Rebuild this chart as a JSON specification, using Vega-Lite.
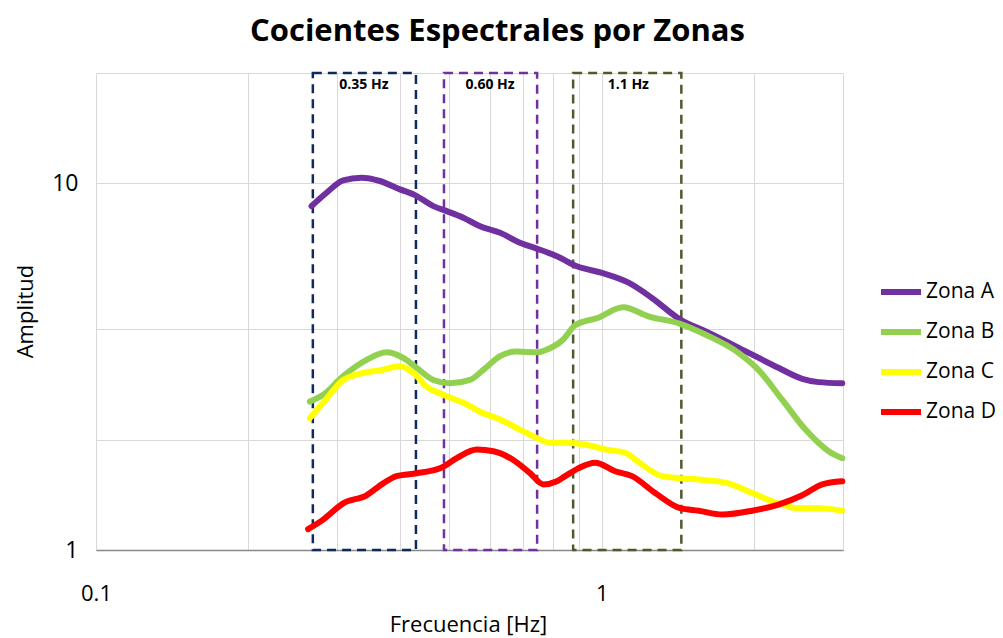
{
  "$schema": "https://vega.github.io/schema/vega-lite/v6.json",
  "width": 747,
  "height": 477,
  "autosize": "none",
  "padding": {"left": 96, "top": 73, "right": 160, "bottom": 88},
  "background": "white",
  "config": {
    "font": "Open Sans",
    "view": {"stroke": null}
  },
  "title": {
    "text": "Cocientes Espectrales por Zonas",
    "font": "Open Sans",
    "fontSize": 31,
    "fontWeight": "bold",
    "color": "#000000",
    "anchor": "middle",
    "dx": 28,
    "offset": 24
  },
  "datasets": {
    "curves": [
      {"zona": "Zona A", "f": 0.2668, "amp": 8.67},
      {"zona": "Zona A", "f": 0.2857, "amp": 9.43},
      {"zona": "Zona A", "f": 0.3082, "amp": 10.19},
      {"zona": "Zona A", "f": 0.335, "amp": 10.36},
      {"zona": "Zona A", "f": 0.3642, "amp": 10.15},
      {"zona": "Zona A", "f": 0.399, "amp": 9.63},
      {"zona": "Zona A", "f": 0.4273, "amp": 9.29},
      {"zona": "Zona A", "f": 0.4645, "amp": 8.67},
      {"zona": "Zona A", "f": 0.4938, "amp": 8.4},
      {"zona": "Zona A", "f": 0.5325, "amp": 8.06},
      {"zona": "Zona A", "f": 0.5747, "amp": 7.64},
      {"zona": "Zona A", "f": 0.6295, "amp": 7.33},
      {"zona": "Zona A", "f": 0.6894, "amp": 6.89},
      {"zona": "Zona A", "f": 0.744, "amp": 6.64},
      {"zona": "Zona A", "f": 0.8153, "amp": 6.33},
      {"zona": "Zona A", "f": 0.893, "amp": 5.94},
      {"zona": "Zona A", "f": 1.001, "amp": 5.7},
      {"zona": "Zona A", "f": 1.13, "amp": 5.36},
      {"zona": "Zona A", "f": 1.257, "amp": 4.87},
      {"zona": "Zona A", "f": 1.43, "amp": 4.25},
      {"zona": "Zona A", "f": 1.603, "amp": 3.95},
      {"zona": "Zona A", "f": 1.953, "amp": 3.45},
      {"zona": "Zona A", "f": 2.236, "amp": 3.14},
      {"zona": "Zona A", "f": 2.492, "amp": 2.93},
      {"zona": "Zona A", "f": 2.684, "amp": 2.87},
      {"zona": "Zona A", "f": 2.99, "amp": 2.85},
      {"zona": "Zona B", "f": 0.2648, "amp": 2.54},
      {"zona": "Zona B", "f": 0.2813, "amp": 2.65},
      {"zona": "Zona B", "f": 0.3082, "amp": 2.98},
      {"zona": "Zona B", "f": 0.3428, "amp": 3.3},
      {"zona": "Zona B", "f": 0.3755, "amp": 3.46},
      {"zona": "Zona B", "f": 0.405, "amp": 3.34},
      {"zona": "Zona B", "f": 0.4306, "amp": 3.14},
      {"zona": "Zona B", "f": 0.4645, "amp": 2.91},
      {"zona": "Zona B", "f": 0.5012, "amp": 2.85},
      {"zona": "Zona B", "f": 0.5491, "amp": 2.91},
      {"zona": "Zona B", "f": 0.5834, "amp": 3.1},
      {"zona": "Zona B", "f": 0.6295, "amp": 3.38},
      {"zona": "Zona B", "f": 0.6792, "amp": 3.48},
      {"zona": "Zona B", "f": 0.744, "amp": 3.46},
      {"zona": "Zona B", "f": 0.7788, "amp": 3.52},
      {"zona": "Zona B", "f": 0.8391, "amp": 3.75},
      {"zona": "Zona B", "f": 0.8861, "amp": 4.1},
      {"zona": "Zona B", "f": 0.9842, "amp": 4.3},
      {"zona": "Zona B", "f": 1.103, "amp": 4.59},
      {"zona": "Zona B", "f": 1.236, "amp": 4.34},
      {"zona": "Zona B", "f": 1.43, "amp": 4.14},
      {"zona": "Zona B", "f": 1.603, "amp": 3.87},
      {"zona": "Zona B", "f": 1.864, "amp": 3.45},
      {"zona": "Zona B", "f": 2.041, "amp": 3.1},
      {"zona": "Zona B", "f": 2.274, "amp": 2.57},
      {"zona": "Zona B", "f": 2.529, "amp": 2.13},
      {"zona": "Zona B", "f": 2.809, "amp": 1.86},
      {"zona": "Zona B", "f": 2.99, "amp": 1.78},
      {"zona": "Zona C", "f": 0.2648, "amp": 2.29},
      {"zona": "Zona C", "f": 0.2813, "amp": 2.52},
      {"zona": "Zona C", "f": 0.3082, "amp": 2.91},
      {"zona": "Zona C", "f": 0.3375, "amp": 3.04},
      {"zona": "Zona C", "f": 0.3642, "amp": 3.09},
      {"zona": "Zona C", "f": 0.399, "amp": 3.17},
      {"zona": "Zona C", "f": 0.424, "amp": 3.04},
      {"zona": "Zona C", "f": 0.4507, "amp": 2.79},
      {"zona": "Zona C", "f": 0.4862, "amp": 2.65},
      {"zona": "Zona C", "f": 0.5325, "amp": 2.52},
      {"zona": "Zona C", "f": 0.5834, "amp": 2.36},
      {"zona": "Zona C", "f": 0.6295, "amp": 2.27},
      {"zona": "Zona C", "f": 0.6894, "amp": 2.13},
      {"zona": "Zona C", "f": 0.744, "amp": 2.02},
      {"zona": "Zona C", "f": 0.7907, "amp": 1.96},
      {"zona": "Zona C", "f": 0.8533, "amp": 1.96},
      {"zona": "Zona C", "f": 0.9275, "amp": 1.94},
      {"zona": "Zona C", "f": 1.016, "amp": 1.88},
      {"zona": "Zona C", "f": 1.113, "amp": 1.84},
      {"zona": "Zona C", "f": 1.201, "amp": 1.71},
      {"zona": "Zona C", "f": 1.316, "amp": 1.59},
      {"zona": "Zona C", "f": 1.43, "amp": 1.57},
      {"zona": "Zona C", "f": 1.603, "amp": 1.55},
      {"zona": "Zona C", "f": 1.78, "amp": 1.52},
      {"zona": "Zona C", "f": 1.984, "amp": 1.43},
      {"zona": "Zona C", "f": 2.236, "amp": 1.34},
      {"zona": "Zona C", "f": 2.45, "amp": 1.3},
      {"zona": "Zona C", "f": 2.684, "amp": 1.3},
      {"zona": "Zona C", "f": 2.99, "amp": 1.28},
      {"zona": "Zona D", "f": 0.2627, "amp": 1.14},
      {"zona": "Zona D", "f": 0.2813, "amp": 1.21},
      {"zona": "Zona D", "f": 0.3082, "amp": 1.34},
      {"zona": "Zona D", "f": 0.3428, "amp": 1.41},
      {"zona": "Zona D", "f": 0.3697, "amp": 1.52},
      {"zona": "Zona D", "f": 0.3929, "amp": 1.59},
      {"zona": "Zona D", "f": 0.4306, "amp": 1.62},
      {"zona": "Zona D", "f": 0.4789, "amp": 1.67},
      {"zona": "Zona D", "f": 0.5168, "amp": 1.78},
      {"zona": "Zona D", "f": 0.5662, "amp": 1.88},
      {"zona": "Zona D", "f": 0.6106, "amp": 1.86},
      {"zona": "Zona D", "f": 0.6686, "amp": 1.76},
      {"zona": "Zona D", "f": 0.7216, "amp": 1.62},
      {"zona": "Zona D", "f": 0.7668, "amp": 1.51},
      {"zona": "Zona D", "f": 0.8153, "amp": 1.54},
      {"zona": "Zona D", "f": 0.8467, "amp": 1.59},
      {"zona": "Zona D", "f": 0.8984, "amp": 1.67},
      {"zona": "Zona D", "f": 0.9707, "amp": 1.73},
      {"zona": "Zona D", "f": 1.063, "amp": 1.64},
      {"zona": "Zona D", "f": 1.148, "amp": 1.59},
      {"zona": "Zona D", "f": 1.276, "amp": 1.43},
      {"zona": "Zona D", "f": 1.43, "amp": 1.3},
      {"zona": "Zona D", "f": 1.555, "amp": 1.28},
      {"zona": "Zona D", "f": 1.73, "amp": 1.25},
      {"zona": "Zona D", "f": 1.984, "amp": 1.28},
      {"zona": "Zona D", "f": 2.236, "amp": 1.33},
      {"zona": "Zona D", "f": 2.492, "amp": 1.41},
      {"zona": "Zona D", "f": 2.729, "amp": 1.51},
      {"zona": "Zona D", "f": 2.99, "amp": 1.54}
    ],
    "boxes": [
      {"banda": "0.35 Hz", "f1": 0.2684, "f2": 0.4292, "fc": 0.3386, "a1": 1, "a2": 20},
      {"banda": "0.60 Hz", "f1": 0.4876, "f2": 0.7452, "fc": 0.6014, "a1": 1, "a2": 20},
      {"banda": "1.1 Hz", "f1": 0.878, "f2": 1.437, "fc": 1.129, "a1": 1, "a2": 20}
    ]
  },
  "layer": [
    {
      "data": {"name": "boxes"},
      "mark": {"type": "rect", "fill": null, "filled": false, "strokeWidth": 2.5, "strokeDash": [9, 6]},
      "encoding": {
        "x": {"field": "f1", "type": "quantitative", "scale": {"type": "log", "domain": [0.1, 3], "nice": false},
          "axis": {
            "values": [0.1, 0.2, 0.3, 0.4, 0.5, 0.6, 0.7, 0.8, 0.9, 1, 2, 3],
            "format": "~g",
            "labelExpr": "datum.value == 0.1 || datum.value == 1 ? datum.label : ''",
            "labelFlush": false,
            "grid": true,
            "gridColor": "#d9d9d9",
            "gridWidth": 1,
            "ticks": false,
            "tickSize": 0,
            "domainColor": "#898989",
            "domainWidth": 1.5,
            "labelFontSize": 22,
            "labelColor": "#000000",
            "labelPadding": 43,
            "labelBaseline": "middle",
            "title": "Frecuencia [Hz]",
            "titleFontSize": 22,
            "titleFontWeight": "normal",
            "titleColor": "#000000",
            "titleX": 372,
            "titleY": 74,
            "titleBaseline": "middle"
          }},
        "x2": {"field": "f2"},
        "y": {"field": "a1", "type": "quantitative", "scale": {"type": "log", "domain": [1, 20], "nice": false},
          "axis": {
            "values": [1, 2, 4, 10, 20],
            "format": "~g",
            "labelExpr": "datum.value == 1 || datum.value == 10 ? datum.label : ''",
            "labelFlush": false,
            "grid": true,
            "gridColor": "#d9d9d9",
            "gridWidth": 1,
            "ticks": false,
            "tickSize": 0,
            "domain": false,
            "labelFontSize": 23,
            "labelColor": "#000000",
            "labelPadding": 18,
            "title": "Amplitud",
            "titleFontSize": 22,
            "titleFontWeight": "normal",
            "titleColor": "#000000",
            "titleX": -71,
            "titleY": 238,
            "titleBaseline": "middle"
          }},
        "y2": {"field": "a2"},
        "stroke": {"field": "banda", "type": "nominal",
          "scale": {"domain": ["0.35 Hz", "0.60 Hz", "1.1 Hz"], "range": ["#0e2a5e", "#7030a0", "#4e5a2e"]},
          "legend": null}
      }
    },
    {
      "data": {"name": "boxes"},
      "mark": {"type": "text", "fontSize": 14, "fontWeight": "bold", "color": "#000000", "baseline": "middle", "align": "center"},
      "encoding": {
        "x": {"field": "fc", "type": "quantitative"},
        "y": {"datum": 18.6},
        "text": {"field": "banda"}
      }
    },
    {
      "data": {"name": "curves"},
      "mark": {"type": "line", "interpolate": "monotone", "strokeWidth": 6, "strokeCap": "round", "strokeJoin": "round"},
      "encoding": {
        "x": {"field": "f", "type": "quantitative"},
        "y": {"field": "amp", "type": "quantitative"},
        "color": {"field": "zona", "type": "nominal",
          "scale": {"domain": ["Zona A", "Zona B", "Zona C", "Zona D"], "range": ["#7030a0", "#92d050", "#ffff00", "#ff0000"]},
          "legend": {
            "title": null,
            "orient": "none",
            "legendX": 782,
            "legendY": 196,
            "symbolType": "stroke",
            "symbolStrokeWidth": 6,
            "symbolSize": 1600,
            "rowPadding": 5,
            "padding": 0,
            "labelOffset": 2,
            "labelFontSize": 21,
            "labelColor": "#000000",
            "labelLimit": 200
          }}
      }
    }
  ]
}
